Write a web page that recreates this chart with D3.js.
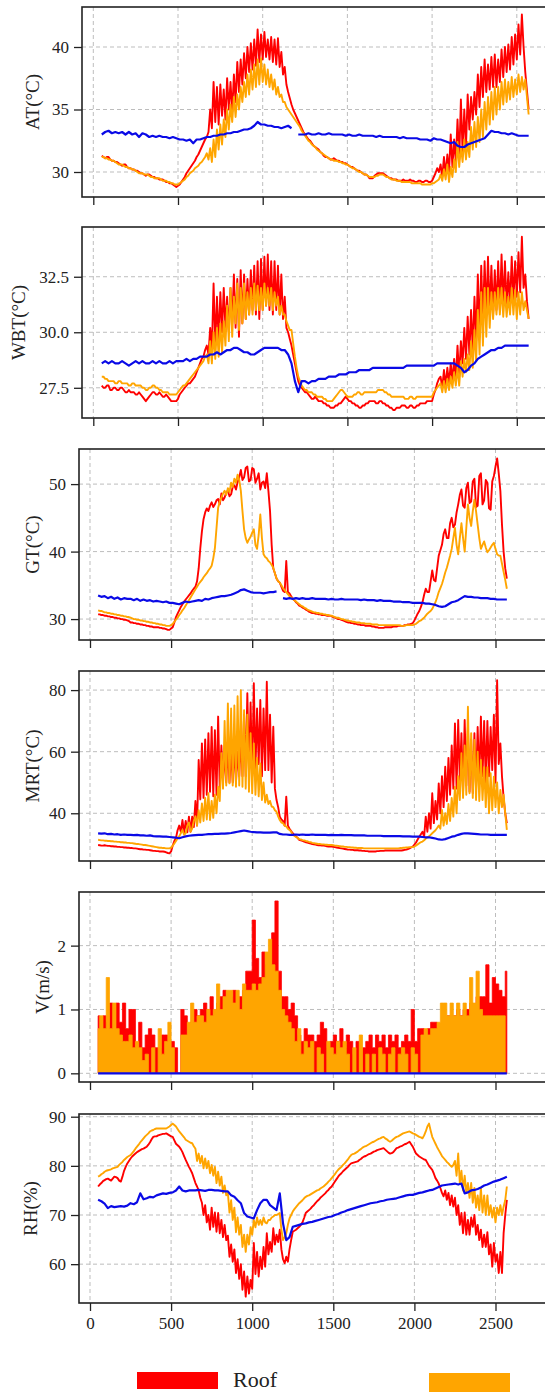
<!DOCTYPE html>
<html>
<head>
<meta charset="utf-8">
<script src="https://cdn.jsdelivr.net/npm/d3@7"></script>
<style>
  html, body { margin: 0; padding: 0; background: #fff; }
  svg { display: block; }
  svg text { font-family: "Liberation Serif", "Times New Roman", serif; }
</style>
</head>
<body>
<svg id="chart" width="545" height="1392"></svg>
<script>
// Sampling: all records start at T0; the fine records every 10 units, the coarse every 20.
const T0 = 50, DT_FINE = 10, DT_COARSE = 20;
const xTicks = [0, 500, 1000, 1500, 2000, 2500];

const atTicks = [30, 35, 40];
const wbtTicks = [27.5, 30.0, 32.5];
const gtTicks = [30, 40, 50];
const mrtTicks = [40, 60, 80];
const vTicks = [0, 1, 2];
const rhTicks = [60, 70, 80, 90];

// ---- Air temperature (°C) ----
const atRoof = [
31.3,31.2,31.1,31.2,31.2,31.0,30.9,30.9,30.8,30.8,30.7,30.6,30.5,30.6,30.6,30.4,30.3,30.3,30.2,30.2,
30.1,30.1,30.0,29.9,29.9,29.8,29.7,29.8,29.8,29.7,29.6,29.6,29.5,29.5,29.4,29.4,29.4,29.3,29.2,29.2,
29.1,29.1,29.0,28.9,28.8,28.9,29.0,29.2,29.4,29.6,29.9,30.1,30.3,30.5,30.7,30.9,31.2,31.4,31.7,32.0,
32.3,32.6,32.8,33.2,35.0,33.5,37.2,34.0,36.8,33.8,37.0,34.5,36.6,34.2,37.5,35.0,37.2,34.8,37.8,35.6,
38.8,36.4,39.0,37.0,39.5,37.5,40.0,38.0,40.3,38.2,40.6,38.5,41.4,38.8,41.0,39.0,41.2,39.2,40.6,39.0,
40.8,38.8,40.6,38.6,40.7,38.4,39.6,37.8,38.4,37.0,36.4,35.9,35.4,35.0,34.7,34.4,34.1,33.8,33.5,33.2,
33.0,32.8,32.6,32.5,32.3,32.1,32.0,31.9,31.8,31.6,31.5,31.3,31.2,31.2,31.1,31.0,31.0,31.1,31.0,30.9,
30.9,30.8,30.8,30.7,30.7,30.6,30.5,30.4,30.4,30.3,30.2,30.1,30.1,30.0,29.9,29.8,29.8,29.7,29.5,29.5,
29.5,29.7,29.8,29.9,29.9,29.9,29.9,29.8,29.7,29.6,29.5,29.5,29.4,29.4,29.4,29.3,29.3,29.3,29.4,29.3,
29.3,29.3,29.4,29.3,29.3,29.2,29.2,29.3,29.3,29.2,29.2,29.3,29.3,29.2,29.2,29.3,29.6,29.9,30.3,30.0,
30.6,29.6,31.2,29.8,31.4,30.0,33.0,30.4,32.6,30.8,34.2,31.0,35.8,31.6,35.0,32.0,36.2,33.4,36.0,34.2,
36.4,34.6,37.8,35.2,38.4,36.0,39.0,36.4,38.6,36.6,39.2,36.8,39.4,36.8,39.0,37.2,39.8,37.6,40.0,38.0,
40.2,38.2,40.8,38.6,41.0,39.0,41.8,39.4,42.6,40.0,38.0,36.5,35.0];
const atSecond = [
31.2,31.2,31.1,31.1,31.0,31.0,30.9,30.9,30.8,30.7,30.6,30.6,30.6,30.5,30.4,30.4,30.3,30.3,30.2,30.2,
30.1,30.0,29.9,29.9,29.9,29.8,29.8,29.8,29.7,29.6,29.6,29.5,29.5,29.5,29.5,29.4,29.3,29.3,29.3,29.2,
29.2,29.1,29.1,29.0,29.0,29.0,29.1,29.2,29.3,29.4,29.6,29.7,29.9,30.0,30.1,30.3,30.4,30.5,30.7,30.8,
31.0,31.2,31.5,31.0,31.9,30.8,32.6,31.2,33.4,31.8,33.8,32.2,34.2,32.8,35.0,33.4,35.4,34.0,36.0,34.4,
36.2,35.0,36.8,35.6,37.2,36.0,37.8,36.2,38.2,36.6,38.6,36.8,39.0,37.0,39.1,37.2,38.6,37.0,38.2,36.8,
37.8,36.6,37.4,36.2,36.8,36.0,36.2,35.6,35.6,35.2,35.0,34.8,34.6,34.4,34.2,34.0,33.8,33.6,33.3,33.1,
32.9,32.7,32.5,32.4,32.2,32.1,32.0,31.8,31.7,31.6,31.5,31.4,31.3,31.2,31.1,31.0,31.0,30.9,30.9,30.9,
30.8,30.8,30.7,30.7,30.6,30.6,30.5,30.4,30.3,30.3,30.2,30.1,30.0,30.0,29.9,29.8,29.8,29.7,29.6,29.6,
29.6,29.6,29.7,29.7,29.8,29.8,29.8,29.7,29.6,29.6,29.5,29.4,29.4,29.4,29.3,29.3,29.3,29.2,29.2,29.2,
29.2,29.2,29.2,29.1,29.1,29.1,29.1,29.1,29.1,29.0,29.0,29.0,29.0,29.0,29.0,29.1,29.1,29.2,29.3,29.4,
29.8,29.3,30.2,29.4,30.6,29.2,30.4,29.6,31.0,30.0,32.4,30.4,32.0,30.8,32.6,31.0,32.4,31.2,33.6,31.8,
34.0,32.0,34.4,32.4,35.0,32.8,35.6,33.4,36.0,33.8,36.4,34.2,36.8,34.6,36.8,35.0,37.2,35.4,37.4,35.6,
37.2,35.8,37.6,36.0,37.4,36.2,37.8,36.4,37.6,36.6,37.4,36.0,34.6];
const atThird = [
33.0,33.2,33.3,33.1,33.2,33.1,33.2,33.0,33.2,33.0,
33.1,32.8,33.1,33.0,32.8,32.9,32.8,32.9,32.8,32.8,
32.7,32.8,32.7,32.6,32.6,32.5,32.6,32.3,32.6,32.6,
32.7,32.8,32.8,32.9,32.9,33.0,33.0,33.1,33.1,33.2,
33.2,33.3,33.4,33.4,33.5,33.7,34.0,33.8,33.8,33.7,
33.7,33.6,33.6,33.5,33.6,33.7,33.5,null,33.0,33.0,
33.0,33.1,33.0,33.0,33.1,33.0,33.0,33.1,33.0,33.0,
33.0,33.0,32.9,33.0,32.9,32.9,33.0,32.9,32.9,32.9,
32.9,32.8,32.9,32.8,32.8,32.8,32.8,32.8,32.7,32.8,
32.7,32.7,32.7,32.7,32.6,32.6,32.6,32.5,32.7,32.6,
32.6,32.5,32.4,32.3,32.4,32.1,32.0,32.0,32.2,32.3,
32.4,32.5,32.6,32.7,33.0,33.3,33.2,33.2,33.1,33.1,
33.0,33.1,33.0,32.9,32.9,32.9,32.9];

// ---- Wet bulb temperature (°C) ----
const wbtRoof = [
27.6,27.5,27.5,27.6,27.6,27.4,27.4,27.5,27.5,27.4,27.4,27.5,27.5,27.4,27.3,27.3,27.4,27.3,27.3,27.3,
27.2,27.2,27.3,27.2,27.1,27.0,26.9,27.0,27.1,27.2,27.3,27.3,27.2,27.2,27.3,27.2,27.1,27.1,27.2,27.1,
27.0,26.9,26.9,26.9,26.9,27.0,27.2,27.3,27.4,27.5,27.6,27.7,27.7,27.8,27.9,28.0,28.2,28.4,28.6,28.8,
28.9,29.2,29.4,29.0,30.2,29.2,32.2,29.4,31.6,29.6,31.8,30.0,32.0,30.2,31.6,30.0,32.0,30.4,32.6,30.2,
32.4,29.8,32.8,30.4,32.6,30.6,32.4,30.8,32.8,31.0,33.0,30.8,33.2,30.6,33.3,31.0,33.4,31.2,33.5,31.0,
33.2,30.8,33.2,31.0,33.0,30.8,32.6,30.6,31.6,30.2,30.0,29.7,29.4,29.0,28.6,28.2,27.8,27.6,27.5,27.4,
27.3,27.3,27.2,27.1,27.0,27.0,27.1,27.0,26.9,26.9,26.9,26.8,26.8,26.7,26.7,26.6,26.6,26.6,26.7,26.7,
26.8,26.8,26.9,27.0,27.1,27.0,26.9,26.9,26.8,26.8,26.7,26.7,26.6,26.6,26.7,26.7,26.8,26.8,26.9,26.9,
26.9,26.9,26.8,26.8,26.9,26.9,26.8,26.8,26.7,26.7,26.6,26.6,26.5,26.5,26.6,26.6,26.6,26.7,26.7,26.7,
26.6,26.6,26.7,26.7,26.6,26.6,26.7,26.7,26.8,26.8,26.8,26.8,26.9,26.9,26.9,26.9,27.2,27.4,27.7,27.9,
28.0,27.5,28.3,27.6,28.4,27.7,28.6,27.8,28.8,27.9,29.4,28.0,29.6,28.6,30.2,28.8,30.7,29.0,31.0,29.2,
31.6,29.6,32.6,29.8,33.0,30.4,33.2,30.8,33.4,30.8,33.0,30.8,32.8,31.0,33.2,31.0,33.5,31.2,33.2,31.2,
32.7,31.2,33.4,31.4,33.2,31.6,33.6,31.8,34.3,32.0,32.6,31.4,30.6];
const wbtSecond = [
28.0,28.0,27.9,27.9,27.8,27.8,27.8,27.8,27.7,27.7,27.8,27.8,27.7,27.7,27.7,27.7,27.6,27.6,27.7,27.7,
27.6,27.6,27.6,27.6,27.5,27.5,27.4,27.4,27.5,27.5,27.6,27.6,27.5,27.5,27.4,27.4,27.3,27.3,27.3,27.3,
27.2,27.2,27.2,27.2,27.2,27.3,27.4,27.5,27.6,27.6,27.7,27.8,27.9,28.0,28.1,28.2,28.3,28.4,28.5,28.6,
28.7,28.9,29.0,28.6,29.6,28.6,30.0,28.8,30.2,28.9,30.4,29.1,30.5,29.4,31.2,29.6,32.0,29.8,31.6,30.4,
32.2,30.1,32.0,30.4,32.2,30.6,31.8,30.8,32.0,30.8,32.2,31.0,32.1,31.0,32.0,31.0,32.2,31.2,32.0,31.2,
32.0,31.0,31.8,31.2,31.6,30.8,31.2,30.8,30.8,30.5,30.3,30.1,30.1,29.5,28.9,28.4,28.0,27.8,27.6,27.5,
27.4,27.4,27.3,27.3,27.3,27.2,27.2,27.1,27.1,27.1,27.1,27.0,27.0,26.9,26.9,26.9,26.9,27.0,27.1,27.2,
27.3,27.4,27.4,27.3,27.2,27.1,27.1,27.1,27.1,27.2,27.2,27.3,27.3,27.2,27.2,27.3,27.3,27.3,27.3,27.3,
27.3,27.3,27.3,27.4,27.4,27.4,27.4,27.3,27.3,27.2,27.2,27.1,27.1,27.1,27.1,27.1,27.1,27.1,27.1,27.0,
27.0,27.0,27.1,27.1,27.0,27.0,27.1,27.1,27.1,27.1,27.1,27.1,27.1,27.1,27.1,27.1,27.3,27.4,27.5,27.6,
27.7,27.3,27.8,27.3,27.9,27.4,28.0,27.5,28.2,27.6,28.4,27.6,28.7,28.0,28.8,28.2,29.0,28.3,29.6,28.4,
30.1,28.7,31.0,29.0,31.8,29.4,32.0,29.8,32.0,30.2,31.8,30.6,31.8,30.8,32.0,30.8,32.0,30.7,31.8,30.7,
31.6,30.8,32.0,30.8,31.9,30.6,31.8,30.8,31.8,31.0,31.4,31.0,30.6];
const wbtThird = [
28.6,28.7,28.6,28.7,28.6,28.6,28.7,28.6,28.5,28.6,
28.7,28.6,28.7,28.6,28.6,28.7,28.6,28.7,28.6,28.6,
28.7,28.6,28.7,28.7,28.7,28.8,28.7,28.8,28.8,28.9,
28.9,28.9,29.0,29.0,29.1,29.0,29.1,29.2,29.2,29.3,
29.3,29.2,29.1,29.1,29.0,29.0,29.1,29.2,29.3,29.3,
29.3,29.3,29.3,29.2,29.2,29.0,28.6,27.8,27.3,27.8,
27.8,27.7,27.8,27.8,27.9,27.9,27.9,28.0,28.0,28.0,
28.1,28.1,28.1,28.2,28.2,28.2,28.3,28.3,28.3,28.3,
28.4,28.4,28.4,28.4,28.4,28.4,28.4,28.4,28.4,28.4,
28.5,28.5,28.5,28.5,28.5,28.5,28.5,28.5,28.5,28.6,
28.6,28.6,28.6,28.6,28.6,28.5,28.4,28.2,28.3,28.5,
28.6,28.8,28.9,29.0,29.1,29.2,29.2,29.3,29.3,29.4,
29.4,29.4,29.4,29.4,29.4,29.4,29.4];

// ---- Globe temperature (°C) ----
const gtRoof = [
30.7,30.7,30.6,30.6,30.5,30.5,30.4,30.4,30.3,30.3,30.2,30.2,30.1,30.1,30.0,30.0,29.9,29.9,29.8,29.7,
29.5,29.5,29.4,29.4,29.3,29.3,29.2,29.2,29.1,29.1,29.0,29.0,28.9,28.9,28.8,28.8,28.8,28.8,28.7,28.7,
28.6,28.6,28.5,28.4,28.4,28.6,28.8,29.5,30.3,30.8,31.3,31.8,32.2,32.6,32.9,33.2,33.5,33.8,34.2,34.5,
34.8,35.6,37.5,40.5,43.0,44.8,45.8,46.4,46.0,46.8,47.3,46.6,47.0,47.6,47.8,47.0,48.6,47.6,48.0,48.8,
49.0,48.2,48.5,49.6,49.8,49.2,50.3,51.0,52.1,50.6,51.0,52.4,52.6,50.4,50.6,52.4,52.2,50.2,50.8,51.6,
49.2,50.2,50.4,49.4,51.6,49.0,46.0,41.0,37.5,36.8,36.0,35.6,35.4,34.8,34.2,34.0,38.6,34.0,33.8,33.4,
33.0,32.8,32.5,32.3,32.0,31.9,31.7,31.6,31.4,31.3,31.1,31.0,30.9,30.9,30.8,30.8,30.7,30.7,30.6,30.6,
30.6,30.5,30.5,30.5,30.4,30.3,30.2,30.1,30.0,30.0,29.9,29.8,29.7,29.6,29.5,29.5,29.4,29.4,29.3,29.3,
29.2,29.2,29.1,29.1,29.1,29.0,29.0,29.0,29.0,28.9,28.9,28.8,28.8,28.7,28.7,28.7,28.7,28.8,28.8,28.8,
28.8,28.8,28.9,28.9,28.9,29.0,29.0,29.0,29.0,29.1,29.1,29.2,29.2,29.3,29.4,29.8,30.3,30.8,31.2,31.8,
32.5,33.6,34.5,34.0,34.0,35.6,37.2,35.8,35.6,37.5,39.4,40.2,41.0,42.6,43.3,42.0,42.0,44.2,45.0,43.6,
44.0,45.8,47.0,48.4,49.2,46.8,46.5,49.4,50.2,47.2,47.4,50.4,50.8,46.6,46.8,51.2,51.6,47.0,47.6,50.6,
50.2,46.4,46.2,50.4,51.2,52.6,53.8,51.6,49.0,44.0,40.0,37.5,36.0];
const gtSecond = [
31.3,31.2,31.2,31.1,31.0,31.0,30.9,30.9,30.8,30.8,30.7,30.7,30.6,30.6,30.5,30.5,30.4,30.4,30.3,30.3,
30.2,30.1,30.0,30.0,29.9,29.9,29.8,29.8,29.7,29.7,29.6,29.6,29.5,29.5,29.4,29.4,29.3,29.3,29.2,29.2,
29.1,29.1,29.0,29.0,29.0,29.1,29.3,29.6,29.9,30.2,30.6,30.9,31.3,31.6,32.0,32.4,32.8,33.2,33.6,34.0,
34.4,34.8,35.2,35.5,35.8,36.2,36.5,36.8,37.2,37.5,37.9,39.0,40.5,43.5,46.5,47.4,48.0,48.6,49.0,48.4,
49.4,48.8,50.2,49.6,50.8,50.2,51.4,50.6,49.0,46.0,43.3,42.0,41.3,41.8,42.2,42.8,43.3,41.0,40.4,42.5,
45.5,42.0,39.6,39.2,39.0,38.6,38.4,38.0,37.6,36.8,36.0,35.6,35.4,35.0,34.6,34.3,34.0,33.7,33.4,33.2,
33.0,32.8,32.6,32.4,32.2,32.0,31.9,31.7,31.6,31.4,31.3,31.2,31.1,31.0,31.0,30.9,30.9,30.8,30.8,30.7,
30.7,30.6,30.6,30.5,30.5,30.4,30.3,30.2,30.2,30.1,30.0,30.0,29.9,29.8,29.8,29.7,29.7,29.6,29.6,29.5,
29.5,29.5,29.4,29.4,29.4,29.3,29.3,29.3,29.3,29.2,29.2,29.2,29.2,29.1,29.1,29.1,29.1,29.1,29.1,29.1,
29.1,29.1,29.1,29.1,29.1,29.1,29.1,29.0,29.0,29.0,29.1,29.1,29.1,29.1,29.1,29.2,29.3,29.5,29.7,29.8,
30.0,30.2,30.5,30.8,31.0,31.2,31.5,32.0,32.5,33.2,34.0,34.6,35.2,36.0,36.9,37.6,38.5,39.4,40.4,42.0,
43.5,41.0,39.6,42.0,44.2,42.0,40.0,43.5,47.0,45.0,43.8,46.0,47.7,46.0,44.0,42.0,40.4,41.0,41.5,40.6,
39.9,40.2,40.6,41.0,41.3,40.4,39.6,39.4,39.4,38.2,37.0,35.8,34.5];
const gtThird = [
33.5,33.3,33.4,33.1,33.3,33.0,33.2,32.9,33.1,33.0,
33.0,32.8,33.0,32.7,32.9,32.7,32.8,32.6,32.7,32.6,
32.5,32.6,32.4,32.4,32.3,32.2,32.4,32.6,32.5,32.6,
32.7,32.8,32.7,33.0,32.9,33.1,33.2,33.3,33.4,33.4,
33.5,33.6,33.8,34.0,34.3,34.4,34.2,34.0,33.9,33.9,
33.9,33.8,33.9,34.0,34.0,34.1,null,33.1,33.0,33.1,
33.0,33.1,33.0,33.1,33.0,33.0,33.1,33.0,33.0,33.0,
33.0,32.9,33.0,32.9,32.9,33.0,32.9,32.9,32.9,32.9,
32.9,32.8,32.9,32.8,32.8,32.8,32.7,32.8,32.7,32.7,
32.7,32.6,32.6,32.6,32.5,32.5,32.5,32.4,32.4,32.4,
32.4,32.3,32.3,32.2,32.1,31.9,31.8,31.9,32.2,32.5,
32.6,32.8,33.1,33.4,33.3,33.3,33.2,33.2,33.1,33.1,
33.1,33.0,33.0,32.9,32.9,32.9,32.9];

// ---- Mean radiant temperature (°C) ----
const mrtRoof = [
29.7,29.6,29.5,29.5,29.6,29.5,29.4,29.4,29.3,29.3,29.2,29.2,29.1,29.1,29.0,29.0,28.9,28.9,28.8,28.8,
28.7,28.7,28.6,28.6,28.5,28.4,28.3,28.3,28.2,28.2,28.1,28.1,28.0,27.9,27.8,27.8,27.7,27.7,27.6,27.6,
27.6,27.5,27.3,27.1,27.0,27.6,29.5,31.0,32.0,34.5,36.0,34.0,37.8,33.5,37.5,33.8,38.9,34.0,38.9,35.5,
44.0,36.0,57.3,44.5,62.7,45.0,64.0,46.0,66.0,47.0,68.0,45.5,67.0,46.0,71.4,48.0,62.0,50.0,60.0,50.0,
62.0,50.0,60.0,50.0,62.0,50.0,60.0,52.0,64.0,52.0,72.0,52.0,79.0,54.0,76.0,52.0,82.2,54.0,74.0,56.0,
76.8,52.0,74.0,54.0,82.7,54.0,72.0,50.0,68.1,48.0,44.3,42.0,38.9,38.0,37.5,36.0,45.4,36.0,35.0,34.2,
33.5,33.0,32.5,32.0,31.4,31.2,31.0,30.8,30.6,30.5,30.3,30.2,30.0,29.9,29.8,29.7,29.6,29.6,29.5,29.5,
29.4,29.3,29.2,29.2,29.2,29.1,29.0,28.9,28.8,28.7,28.6,28.5,28.4,28.3,28.2,28.2,28.1,28.1,28.0,28.0,
28.0,27.9,27.9,27.8,27.8,27.7,27.7,27.6,27.6,27.6,27.6,27.6,27.7,27.7,27.8,27.8,27.8,27.9,27.9,27.9,
27.9,27.9,27.9,27.9,27.9,27.9,27.9,27.9,28.0,28.1,28.2,28.4,28.6,28.9,29.2,29.8,30.5,31.5,32.4,33.2,
34.0,32.4,38.9,34.0,40.0,35.0,46.5,36.8,44.0,38.0,49.7,40.0,52.0,42.0,55.1,44.0,58.0,46.0,62.0,48.0,
69.2,48.0,70.3,50.8,66.0,47.0,70.3,49.0,68.0,47.0,64.0,46.5,66.0,48.0,68.0,50.0,71.4,52.0,70.0,50.0,
70.0,52.0,68.0,54.0,72.0,50.0,83.2,56.0,62.7,52.0,45.0,40.0,36.8];
const mrtSecond = [
31.4,31.3,31.2,31.2,31.1,31.1,31.0,31.0,30.9,30.9,30.8,30.8,30.7,30.7,30.6,30.6,30.5,30.5,30.4,30.4,
30.3,30.3,30.2,30.1,30.0,30.0,29.9,29.8,29.7,29.7,29.6,29.5,29.4,29.3,29.2,29.1,29.0,28.9,28.8,28.8,
28.7,28.7,28.6,28.6,28.6,28.8,29.5,30.2,31.0,31.8,32.5,33.5,34.6,33.0,33.5,36.0,37.0,34.0,35.0,37.5,
39.0,36.0,41.0,37.0,43.2,37.5,45.0,38.0,46.5,37.8,44.0,38.5,46.0,40.0,48.6,44.0,59.5,48.0,70.0,49.0,
75.7,49.7,74.0,49.0,75.0,48.6,78.0,49.0,80.0,48.6,73.5,48.0,72.0,47.0,66.0,46.5,62.7,46.0,58.0,45.5,
56.2,44.3,50.0,43.5,46.0,43.0,44.0,42.2,42.0,41.0,40.5,39.0,37.8,37.0,36.8,36.0,35.7,35.0,34.6,34.0,
33.0,32.7,32.3,32.0,31.6,31.5,31.3,31.2,31.0,30.9,30.7,30.6,30.4,30.3,30.2,30.1,30.0,30.0,29.9,29.9,
29.8,29.8,29.7,29.7,29.7,29.6,29.5,29.5,29.4,29.3,29.2,29.2,29.1,29.1,29.0,29.0,28.9,28.9,28.8,28.8,
28.7,28.7,28.7,28.7,28.6,28.6,28.6,28.6,28.6,28.6,28.6,28.6,28.6,28.6,28.6,28.6,28.6,28.6,28.6,28.6,
28.6,28.6,28.6,28.6,28.6,28.6,28.7,28.7,28.8,28.8,28.9,28.9,29.0,29.0,29.0,29.2,29.5,29.9,30.3,30.6,
30.8,31.2,31.8,32.2,32.5,33.0,33.5,34.0,34.5,35.2,36.0,35.0,41.1,36.0,40.0,36.5,43.0,37.5,45.0,38.9,
48.6,40.0,52.0,44.3,59.5,45.0,62.0,46.0,74.6,46.5,66.0,45.0,63.8,44.3,60.0,44.0,57.3,44.3,55.0,42.0,
55.0,40.0,53.0,41.0,51.9,42.0,50.0,40.0,47.6,42.0,46.0,40.0,34.6];
const mrtThird = [
33.5,33.4,33.5,33.2,33.3,33.1,33.2,33.0,33.1,33.0,
33.0,32.9,33.0,32.8,32.8,32.7,32.8,32.6,32.5,32.5,
32.4,32.4,32.3,32.2,32.1,31.9,32.2,32.5,32.7,32.8,
32.9,33.0,33.0,33.1,33.2,33.2,33.3,33.3,33.4,33.4,
33.5,33.6,33.8,34.0,34.2,34.4,34.2,34.0,33.9,33.8,
33.8,33.7,33.7,33.7,33.8,33.8,33.3,33.1,33.1,33.0,
33.0,33.1,33.0,33.1,33.0,33.0,33.1,33.0,33.0,33.0,
33.0,32.9,33.0,32.9,32.9,33.0,32.9,32.9,32.9,32.8,
32.8,32.8,32.8,32.7,32.7,32.7,32.7,32.7,32.6,32.6,
32.6,32.6,32.6,32.6,32.5,32.5,32.5,32.4,32.4,32.4,
32.3,32.2,32.2,32.0,31.8,31.5,31.4,31.6,32.0,32.4,
32.6,33.0,33.3,33.5,33.5,33.4,33.3,33.2,33.1,33.1,
33.1,33.0,33.0,33.0,33.0,33.0,33.0];

// ---- Wind speed (m/s) ----
const vRoof = [
0.9,0.6,0.9,0.8,1.1,0.4,1.1,0.8,1.1,0.7,
1.0,1.0,0.4,0.8,0.4,0.6,0.7,0.6,0.4,0.4,
0.6,0.6,0.4,0.5,0.4,0.0,1.0,0.9,0.6,0.8,
1.0,0.9,1.0,1.1,1.0,1.2,0.9,1.1,1.2,1.3,
1.1,1.2,1.3,0.9,1.2,1.3,1.6,1.6,2.4,1.8,
1.5,1.9,1.7,1.7,2.2,2.7,1.6,1.2,1.2,1.0,
1.1,0.9,0.6,0.5,0.7,0.6,0.6,0.5,0.6,0.8,
0.7,0.4,0.5,0.6,0.5,0.7,0.4,0.6,0.5,0.3,
0.5,0.0,0.4,0.5,0.6,0.4,0.6,0.5,0.6,0.4,
0.6,0.5,0.6,0.4,0.5,0.6,0.5,1.0,0.5,0.7,
0.7,0.6,0.7,0.8,0.8,0.7,0.7,0.8,0.9,0.9,
0.9,1.0,0.9,1.0,1.0,1.1,1.0,1.2,1.2,1.2,
1.7,1.1,1.5,1.4,1.3,1.2,1.6];
const vSecond = [
0.7,0.9,0.7,1.5,0.7,1.1,0.7,0.6,0.5,0.5,
0.6,0.4,0.5,0.4,0.2,0.3,0.0,0.4,0.0,0.7,
0.3,0.5,0.8,0.4,0.0,0.0,0.6,0.6,0.8,1.1,
0.8,0.9,0.9,0.8,1.0,0.9,1.0,1.4,1.0,1.2,
1.3,1.3,1.1,1.3,1.0,1.4,1.3,1.3,1.4,1.3,
1.4,1.5,1.9,2.1,1.7,1.6,1.3,1.0,0.9,0.8,
0.7,0.5,0.7,0.3,0.5,0.4,0.5,0.0,0.4,0.3,
0.0,0.5,0.4,0.3,0.5,0.4,0.5,0.3,0.0,0.4,
0.0,0.6,0.0,0.3,0.0,0.3,0.0,0.4,0.3,0.0,
0.3,0.4,0.0,0.3,0.4,0.3,0.0,0.4,0.3,0.0,
0.6,0.7,0.6,0.7,0.7,0.8,1.1,1.1,0.9,1.1,
0.9,1.1,0.9,1.1,0.9,1.5,1.1,1.6,1.0,0.9,
0.9,0.9,0.9,0.9,0.9,0.9,0.0];
const vThird = [
0,0,0,0,0,0,0,0,0,0,
0,0,0,0,0,0,0,0,0,0,
0,0,0,0,0,0,0,0,0,0,
0,0,0,0,0,0,0,0,0,0,
0,0,0,0,0,0,0,0,0,0,
0,0,0,0,0,0,0,0,0,0,
0,0,0,0,0,0,0,0,0,0,
0,0,0,0,0,0,0,0,0,0,
0,0,0,0,0,0,0,0,0,0,
0,0,0,0,0,0,0,0,0,0,
0,0,0,0,0,0,0,0,0,0,
0,0,0,0,0,0,0,0,0,0,
0,0,0,0,0,0,0];

// ---- Relative humidity (%) ----
const rhRoof = [
75.8,76.2,76.5,76.9,77.1,77.3,77.4,77.2,77.0,77.4,77.8,77.7,77.5,77.0,76.8,77.8,79.0,79.8,80.5,81.0,
81.5,81.9,82.2,82.5,82.8,83.0,83.2,83.4,83.5,83.7,83.9,84.3,84.8,85.4,85.9,86.0,86.0,86.2,86.3,86.4,
86.5,86.5,86.6,86.4,86.2,86.0,85.9,85.2,84.5,84.2,83.9,83.4,82.8,82.0,81.2,80.5,79.8,79.2,78.5,77.5,
76.5,75.8,75.0,73.5,72.5,70.0,72.0,68.5,70.0,67.0,71.5,67.6,70.5,66.6,70.4,66.3,69.0,65.5,68.0,64.9,
65.8,61.5,64.0,60.5,63.0,58.2,61.0,57.0,60.0,54.8,58.5,53.4,57.5,54.0,56.8,55.0,64.3,58.0,62.5,57.5,
61.5,59.0,63.5,59.5,66.3,62.0,64.5,62.5,67.3,64.0,66.0,64.5,67.0,63.0,61.0,60.2,61.5,60.5,63.0,64.9,
66.6,66.8,67.0,67.3,67.6,68.0,68.5,69.4,70.4,70.7,71.0,71.3,71.7,72.0,72.4,72.8,73.1,73.5,73.8,74.1,
74.4,74.8,75.1,75.5,75.8,76.3,76.8,77.3,77.8,78.2,78.5,78.9,79.2,79.5,79.8,80.2,80.5,80.6,80.7,80.8,
80.9,81.2,81.4,81.7,81.9,82.0,82.2,82.4,82.5,82.7,82.9,83.0,83.2,83.3,83.4,83.5,83.6,83.3,83.0,82.7,
82.5,82.6,82.8,83.2,83.6,83.7,83.9,84.0,84.2,84.4,84.5,84.7,84.9,84.4,83.9,83.2,82.5,82.2,81.9,81.7,
81.5,81.3,81.2,80.6,80.0,79.6,79.2,78.4,77.5,77.0,76.4,75.5,74.5,73.8,75.0,73.1,74.5,72.0,74.0,71.7,
73.5,70.0,72.0,68.0,70.4,66.3,70.5,66.0,69.0,66.0,69.5,67.6,70.0,66.0,68.0,64.9,67.0,63.5,66.0,63.5,
66.5,62.0,64.0,59.5,64.3,60.5,62.0,58.2,62.5,58.2,66.3,70.0,73.1];
const rhSecond = [
77.8,78.0,78.3,78.5,78.8,79.0,79.1,79.2,79.3,79.5,79.6,79.7,79.8,80.2,80.5,80.8,81.2,81.5,81.8,82.0,
82.2,82.6,83.0,83.5,83.9,84.3,84.8,85.2,85.6,86.0,86.3,86.6,87.0,87.2,87.3,87.5,87.6,87.6,87.6,87.6,
87.6,87.6,87.6,87.8,88.0,88.3,88.6,88.3,88.0,87.5,87.0,86.6,86.2,85.8,85.3,85.1,84.9,84.7,84.6,84.0,
83.5,81.0,82.5,80.5,82.0,79.5,81.5,79.5,81.0,78.5,80.2,78.0,79.8,76.5,78.8,76.0,77.8,74.5,76.0,74.0,
74.5,70.5,73.0,69.0,71.5,66.5,69.5,66.0,68.0,63.5,66.0,62.5,66.0,64.0,67.5,66.0,69.0,67.5,69.5,68.0,
69.0,68.0,69.5,68.5,68.3,69.0,69.0,69.5,69.7,70.0,70.0,70.2,70.4,67.0,64.9,65.5,66.3,68.0,69.3,70.0,
70.7,71.2,71.6,72.0,72.4,72.7,73.0,73.4,73.7,73.9,74.0,74.2,74.4,74.6,74.8,75.0,75.1,75.4,75.6,75.8,
76.1,76.4,76.8,77.1,77.5,77.9,78.3,78.8,79.2,79.5,79.8,80.2,80.5,80.9,81.3,81.8,82.2,82.4,82.5,82.7,
82.9,83.2,83.4,83.7,83.9,84.0,84.2,84.4,84.6,84.8,84.9,85.1,85.3,85.5,85.6,85.8,85.9,85.6,85.4,85.1,
84.9,85.1,85.4,85.7,85.9,86.0,86.2,86.4,86.6,86.7,86.8,86.9,87.0,86.8,86.6,86.5,86.3,86.1,85.9,85.8,
85.6,86.2,87.0,88.0,88.6,87.2,85.9,85.2,84.5,83.8,83.2,82.6,82.0,81.6,81.2,80.8,80.5,80.1,79.8,80.2,
81.0,78.0,82.5,76.5,79.0,75.0,78.0,74.5,76.5,73.5,76.5,72.5,75.5,71.5,74.0,71.0,75.5,70.5,74.0,70.0,
74.0,70.0,72.0,69.5,71.5,68.5,71.5,70.0,72.0,70.0,71.7,73.0,75.8];
const rhThird = [
73.1,72.8,72.3,71.4,71.8,71.6,71.7,71.8,71.7,71.9,
72.4,72.2,72.6,74.4,73.2,73.4,73.7,73.6,74.0,74.2,
74.4,74.3,74.5,74.6,75.0,75.8,75.0,74.8,75.0,75.0,
75.0,75.1,75.0,74.9,75.1,75.1,75.0,75.0,74.9,74.8,
74.8,74.0,73.7,73.0,72.4,70.4,69.7,69.5,69.3,71.0,
72.4,73.1,73.1,72.0,71.5,71.0,74.4,68.3,64.9,65.5,
67.6,67.8,68.0,68.2,68.3,68.5,68.6,68.8,69.0,69.2,
69.4,69.6,69.7,70.0,70.2,70.5,70.7,71.0,71.2,71.4,
71.6,71.8,72.0,72.2,72.4,72.5,72.6,72.8,72.9,73.1,
73.2,73.3,73.4,73.6,73.8,74.0,74.1,74.1,74.3,74.5,
74.6,74.8,75.0,75.1,75.4,75.7,76.0,76.1,76.2,76.3,
76.4,76.2,76.4,74.4,74.6,75.0,75.1,75.3,75.6,76.0,
76.2,76.5,76.8,77.0,77.2,77.5,77.8];

const COLORS = ["#ff0000", "#ffa500", "#0a0ae6"];
const INK = "#222";

// Panel layout: vertical extent, left spine, x origin (px) and pixels per unit.
const panels = [
  { label: "AT(°C)",  series: [[atRoof, DT_FINE], [atSecond, DT_FINE], [atThird, DT_COARSE]],
    ticks: atTicks,  fmt: d3.format("d"),   domain: [28, 43.2],     top: 7,    bottom: 197,  left: 82, x0: 93.3, k: 0.1694, lx: 39 },
  { label: "WBT(°C)", series: [[wbtRoof, DT_FINE], [wbtSecond, DT_FINE], [wbtThird, DT_COARSE]],
    ticks: wbtTicks, fmt: d3.format(".1f"), domain: [26.14, 34.74], top: 227,  bottom: 418,  left: 82, x0: 93.3, k: 0.1694, lx: 25 },
  { label: "GT(°C)",  series: [[gtRoof, DT_FINE], [gtSecond, DT_FINE], [gtThird, DT_COARSE]],
    ticks: gtTicks,  fmt: d3.format("d"),   domain: [26.9, 55.2],   top: 449,  bottom: 640,  left: 79, x0: 90,   k: 0.1622, lx: 39 },
  { label: "MRT(°C)", series: [[mrtRoof, DT_FINE], [mrtSecond, DT_FINE], [mrtThird, DT_COARSE]],
    ticks: mrtTicks, fmt: d3.format("d"),   domain: [24.5, 86.2],   top: 671,  bottom: 861,  left: 79, x0: 90,   k: 0.1622, lx: 39 },
  { label: "V(m/s)",  series: [[vRoof, DT_COARSE], [vSecond, DT_COARSE], [vThird, DT_COARSE]],
    ticks: vTicks,   fmt: d3.format("d"),   domain: [-0.136, 2.84], top: 892,  bottom: 1082, left: 79, x0: 90,   k: 0.1622, lx: 49, filled: true },
  { label: "RH(%)",   series: [[rhRoof, DT_FINE], [rhSecond, DT_FINE], [rhThird, DT_COARSE]],
    ticks: rhTicks,  fmt: d3.format("d"),   domain: [52.1, 90.55],  top: 1114, bottom: 1303, left: 79, x0: 90,   k: 0.1622, lx: 37 }
];

const svg = d3.select("#chart");
const FRAME_RIGHT = 620; // frame continues past the visible edge
const defs = svg.append("defs");

panels.forEach((p, idx) => {
  const x = d3.scaleLinear().domain([0, 2500]).range([p.x0, p.x0 + 2500 * p.k]);
  const y = d3.scaleLinear().domain(p.domain).range([p.bottom, p.top]);
  const g = svg.append("g");

  const clipId = "plot-clip-" + idx;
  defs.append("clipPath").attr("id", clipId)
    .append("rect")
    .attr("x", p.left).attr("y", p.top)
    .attr("width", FRAME_RIGHT - p.left).attr("height", p.bottom - p.top);

  // dashed grid
  const grid = g.append("g")
    .attr("stroke", "#bdbdbd").attr("stroke-width", 1).attr("stroke-dasharray", "4,3");
  grid.selectAll("line.gx").data(xTicks).join("line").attr("class", "gx")
    .attr("x1", d => x(d)).attr("x2", d => x(d))
    .attr("y1", p.top).attr("y2", p.bottom);
  grid.selectAll("line.gy").data(p.ticks).join("line").attr("class", "gy")
    .attr("x1", p.left).attr("x2", FRAME_RIGHT)
    .attr("y1", d => y(d)).attr("y2", d => y(d));

  const plot = g.append("g").attr("clip-path", `url(#${clipId})`);

  p.series.forEach(([values, dt], s) => {
    const tx = i => x(T0 + dt * i);
    if (p.filled && s < 2) {
      const area = d3.area()
        .x((d, i) => tx(i)).y0(y(0)).y1(d => y(d))
        .curve(d3.curveStep);
      plot.append("path").datum(values)
        .attr("d", area)
        .attr("fill", COLORS[s])
        .attr("stroke", COLORS[s]).attr("stroke-width", 0.8);
    } else {
      const line = d3.line()
        .defined(d => d != null)
        .x((d, i) => tx(i)).y(d => y(d));
      plot.append("path").datum(values)
        .attr("d", line)
        .attr("fill", "none")
        .attr("stroke", COLORS[s])
        .attr("stroke-width", s === 2 ? 2.2 : 1.9)
        .attr("stroke-linejoin", "round");
    }
  });

  // frame
  g.append("rect")
    .attr("x", p.left).attr("y", p.top)
    .attr("width", FRAME_RIGHT - p.left).attr("height", p.bottom - p.top)
    .attr("fill", "none").attr("stroke", INK).attr("stroke-width", 1.6);

  const styleAxis = sel => {
    sel.select(".domain").remove();
    sel.selectAll(".tick line").attr("stroke", INK).attr("stroke-width", 1.3);
    sel.selectAll(".tick text").attr("fill", INK);
    sel.attr("font-family", null).attr("font-size", 17);
  };

  g.append("g")
    .attr("transform", `translate(${p.left},0)`)
    .call(d3.axisLeft(y).tickValues(p.ticks).tickFormat(p.fmt).tickSize(8).tickPadding(5))
    .call(styleAxis);

  const isLast = idx === panels.length - 1;
  g.append("g")
    .attr("transform", `translate(0,${p.bottom})`)
    .call(d3.axisBottom(x).tickValues(xTicks).tickSize(8).tickPadding(6)
      .tickFormat(isLast ? d3.format("d") : () => ""))
    .call(styleAxis);

  g.append("text")
    .attr("transform", `translate(${p.lx},${(p.top + p.bottom) / 2}) rotate(-90)`)
    .attr("text-anchor", "middle")
    .attr("font-size", 19)
    .attr("fill", INK)
    .text(p.label);
});

// legend
const legend = svg.append("g");
legend.append("rect").attr("x", 137).attr("y", 1372).attr("width", 81).attr("height", 17).attr("fill", COLORS[0]);
legend.append("text").attr("x", 233).attr("y", 1387)
  .attr("font-size", 22).attr("fill", INK).text("Roof");
legend.append("rect").attr("x", 429).attr("y", 1373).attr("width", 81).attr("height", 20).attr("fill", COLORS[1]);
</script>
</body>
</html>
